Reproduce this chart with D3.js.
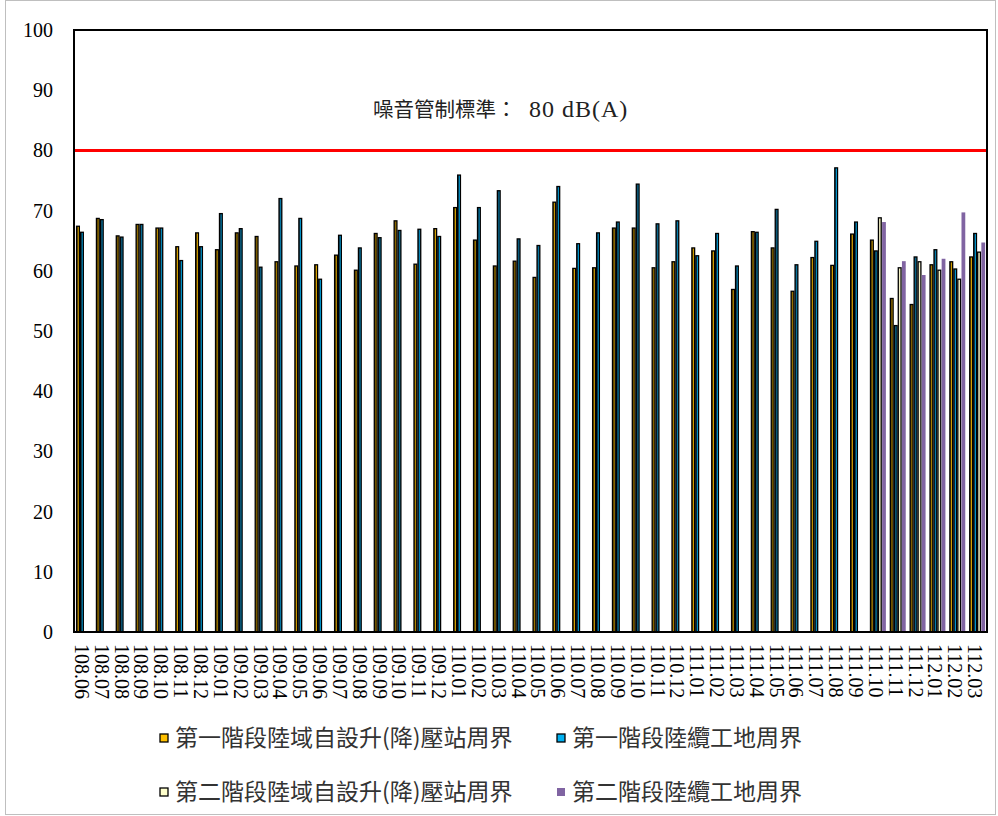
<!DOCTYPE html>
<html><head><meta charset="utf-8">
<script src="https://cdn.jsdelivr.net/npm/d3@7"></script>
<style>body{margin:0;background:#fff}svg{display:block}</style>
</head><body>
<svg id="c" width="998" height="816"></svg>
<script>
const categories = ["108.06","108.07","108.08","108.09","108.10","108.11","108.12",
"109.01","109.02","109.03","109.04","109.05","109.06","109.07","109.08","109.09","109.10","109.11","109.12",
"110.01","110.02","110.03","110.04","110.05","110.06","110.07","110.08","110.09","110.10","110.11","110.12",
"111.01","111.02","111.03","111.04","111.05","111.06","111.07","111.08","111.09","111.10","111.11","111.12",
"112.01","112.02","112.03"];
const stage1Station = [67.4,68.7,65.8,67.7,67.1,64.0,66.3,
63.5,66.3,65.7,61.5,60.8,61.0,62.6,60.1,66.2,68.3,61.1,67.0,
70.5,65.1,60.8,61.6,58.9,71.4,60.4,60.5,67.1,67.1,60.5,61.5,
63.8,63.3,56.9,66.5,63.8,56.6,62.2,60.9,66.1,65.1,55.4,54.4,
61.0,61.5,62.3];
const stage1Cable = [66.4,68.5,65.6,67.7,67.1,61.7,64.0,
69.5,67.0,60.6,72.0,68.7,58.6,65.9,63.8,65.5,66.7,66.9,65.7,
75.9,70.5,73.3,65.3,64.2,74.0,64.5,66.3,68.1,74.4,67.8,68.3,
62.5,66.2,60.8,66.4,70.2,61.0,64.9,77.1,68.1,63.3,50.9,62.3,
63.5,60.3,66.2];
const stage2Station = [null,null,null,null,null,null,null,
null,null,null,null,null,null,null,null,null,null,null,null,
null,null,null,null,null,null,null,null,null,null,null,null,
null,null,null,null,null,null,null,null,null,68.8,60.5,61.5,
60.1,58.6,63.1];
const stage2Cable = [null,null,null,null,null,null,null,
null,null,null,null,null,null,null,null,null,null,null,null,
null,null,null,null,null,null,null,null,null,null,null,null,
null,null,null,null,null,null,null,null,null,68.1,61.6,59.3,
62.0,69.7,64.7];
const seriesNames = ["第一階段陸域自設升(降)壓站周界","第一階段陸纜工地周界","第二階段陸域自設升(降)壓站周界","第二階段陸纜工地周界"];
const yTicks = [0,10,20,30,40,50,60,70,80,90,100];
const standard = 80;
const standardLabel = "噪音管制標準：";
const standardValue = "80 dB(A)";

const svg = d3.select("#c");
const L = 74, R = 987, T = 30, B = 632;
const serif = "'Liberation Serif','Times New Roman',serif";
const cjk = "'Noto Sans CJK TC','Noto Sans CJK SC',sans-serif";

// outer frame
svg.append("rect").attr("x",5.5).attr("y",0.5).attr("width",990).attr("height",814)
  .attr("fill","none").attr("stroke","#bfbfbf").attr("stroke-width",1);

const x0 = d3.scaleBand().domain(categories).range([L,R]).paddingInner(0.2).paddingOuter(0.1);
const keys = [0,1,2,3];
const x1 = d3.scaleBand().domain(keys).range([0,x0.bandwidth()]);
const y = d3.scaleLinear().domain([0,100]).range([B,T]);

// gradients
const defs = svg.append("defs");
function grad(id, dark, bright){
  const g = defs.append("linearGradient").attr("id",id).attr("x1","0").attr("x2","1").attr("y1","0").attr("y2","0");
  g.append("stop").attr("offset","0%").attr("stop-color",dark);
  g.append("stop").attr("offset","45%").attr("stop-color",dark);
  g.append("stop").attr("offset","65%").attr("stop-color",bright);
  g.append("stop").attr("offset","100%").attr("stop-color",dark);
}
grad("gO","#6e5200","#ffc000");
grad("gB","#0b5270","#00b0f0");

const styles = [
  {fill:"url(#gO)", stroke:"#000", sw:1.3, legendFill:"#ffc000"},
  {fill:"url(#gB)", stroke:"#000", sw:1.3, legendFill:"#00b0f0"},
  {fill:"#f3f1c6", stroke:"#000", sw:1.3, legendFill:"#ffffcc"},
  {fill:"#8064a2", stroke:"none", sw:0, legendFill:"#8064a2"}
];
const allSeries = [stage1Station, stage1Cable, stage2Station, stage2Cable];

// bars
const g = svg.append("g");
categories.forEach((c,i)=>{
  keys.forEach(k=>{
    const v = allSeries[k][i];
    if(v==null) return;
    const st = styles[k];
    const bx = x0(c)+x1(k);
    const inset = k===3 ? 0.3 : 0.6;
    g.append("rect")
      .attr("x", bx+inset).attr("y", y(v))
      .attr("width", x1.bandwidth()-inset*2+ (k===3?0.4:0)).attr("height", y(0)-y(v))
      .attr("fill", st.fill).attr("stroke", st.stroke).attr("stroke-width", st.sw);
  });
});

// plot frame
svg.append("rect").attr("x",L).attr("y",T).attr("width",R-L).attr("height",B-T)
  .attr("fill","none").attr("stroke","#000").attr("stroke-width",2);

// y axis labels
const yAxis = d3.axisLeft(y).tickValues(yTicks).tickSize(0).tickPadding(0);
const ya = svg.append("g").attr("transform",`translate(53,0)`).call(yAxis);
ya.select(".domain").remove();
ya.selectAll("text").attr("font-family",serif).attr("font-size",20).attr("fill","#000");

// x axis labels
const xAxis = d3.axisBottom(x0).tickSize(0);
const xa = svg.append("g").attr("transform",`translate(0,${B})`).call(xAxis);
xa.select(".domain").remove();
xa.selectAll("text")
  .attr("font-family",serif).attr("font-size",20).attr("fill","#000")
  .attr("text-anchor","start").attr("dy","0.35em").attr("y",0)
  .attr("transform","translate(-2,12) rotate(90)");

// standard line
svg.append("line").attr("x1",L+1).attr("x2",R-1).attr("y1",y(standard)).attr("y2",y(standard))
  .attr("stroke","#ff0000").attr("stroke-width",3);
svg.append("text").attr("x",373).attr("y",117).attr("font-size",20.5).attr("fill","#222")
  .attr("font-family",cjk).text(standardLabel);
svg.append("text").attr("x",529).attr("y",117).attr("font-size",24).attr("fill","#222")
  .attr("letter-spacing",1).attr("font-family",serif).text(standardValue);

// legend
const legPos = [[160,738],[557,738],[160,792],[557,792]];
seriesNames.forEach((n,k)=>{
  const [lx,ly] = legPos[k];
  const st = styles[k];
  svg.append("rect").attr("x",lx).attr("y",ly-4).attr("width",8).attr("height",8)
    .attr("fill",st.legendFill).attr("stroke",k===3?"none":"#000").attr("stroke-width",1.3);
  svg.append("text").attr("x",lx+15).attr("y",ly).attr("dy","0.35em")
    .attr("font-family",cjk).attr("font-size",23).attr("fill","#333").text(n);
});
</script>
</body></html>
